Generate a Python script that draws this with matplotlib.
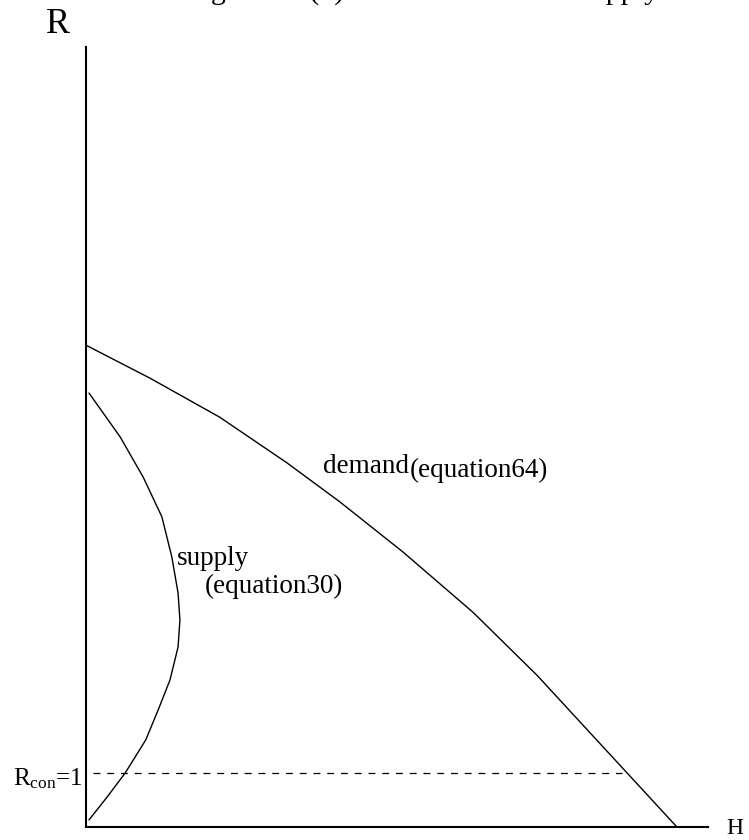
import matplotlib
matplotlib.use("Agg")
import matplotlib.pyplot as plt

plt.rcParams["font.family"] = ["Liberation Serif", "DejaVu Serif"]
plt.rcParams["mathtext.fontset"] = "custom"
plt.rcParams["mathtext.rm"] = "Liberation Serif"
plt.rcParams["mathtext.it"] = "Liberation Serif:italic"

# demand curve (equation 64)
demand_h = [0.0, 1.03, 2.15, 3.23, 4.08, 5.10, 6.22, 7.25, 8.70, 9.50]
demand_r = [8.03, 7.48, 6.83, 6.07, 5.42, 4.58, 3.58, 2.53, 0.90, 0.0]

# supply curve (equation 30)
supply_h = [0.05, 0.55, 0.92, 1.22, 1.38, 1.48, 1.51, 1.48, 1.35, 1.16, 0.96, 0.63, 0.34, 0.05]
supply_r = [7.23, 6.50, 5.83, 5.17, 4.50, 3.90, 3.45, 3.00, 2.45, 1.95, 1.45, 0.90, 0.50, 0.12]

# R_con = 1 level
rcon_h = [0.11, 8.62]
rcon_r = [0.90, 0.90]

fig = plt.figure(figsize=(7.49, 8.4), dpi=100)
ax = fig.add_axes([86 / 749, 13 / 840, 622 / 749, 780 / 840])
ax.set_xlim(0, 10)
ax.set_ylim(0, 13)

ax.plot(demand_h, demand_r, color="black", linewidth=1.0)
ax.plot(supply_h, supply_r, color="black", linewidth=1.0)
ax.plot(rcon_h, rcon_r, color="black", linewidth=0.9, dashes=(5.5, 5.5))

for side in ["top", "right"]:
    ax.spines[side].set_visible(False)
for side in ["left", "bottom"]:
    ax.spines[side].set_linewidth(1.5)
ax.set_xticks([])
ax.set_yticks([])

ax.text(3.81, 5.90, "demand", fontsize=19.5, va="baseline", ha="left")
ax.text(5.21, 5.83, "(equation64)", fontsize=19.5, va="baseline", ha="left")
ax.text(1.46, 4.37, "supply", fontsize=19.5, va="baseline", ha="left")
ax.text(1.91, 3.90, "(equation30)", fontsize=19.5, va="baseline", ha="left")

ax.text(-1.17, 0.70, r"R$_{\rm con}$=1", fontsize=18, va="baseline", ha="left", clip_on=False)
ax.text(-0.45, 13.37, "R", fontsize=26, va="center", ha="center", clip_on=False)
ax.text(10.43, -0.02, "H", fontsize=17, va="center", ha="center", clip_on=False)

# caption sits above the page edge, only its descenders show
fig.text(186 / 749, 1 + 1 / 840, "Figure 12 (b): The Demand and Supply",
         fontsize=21.6, va="baseline", ha="left")

fig.savefig("out.png", dpi=100, facecolor="white")
